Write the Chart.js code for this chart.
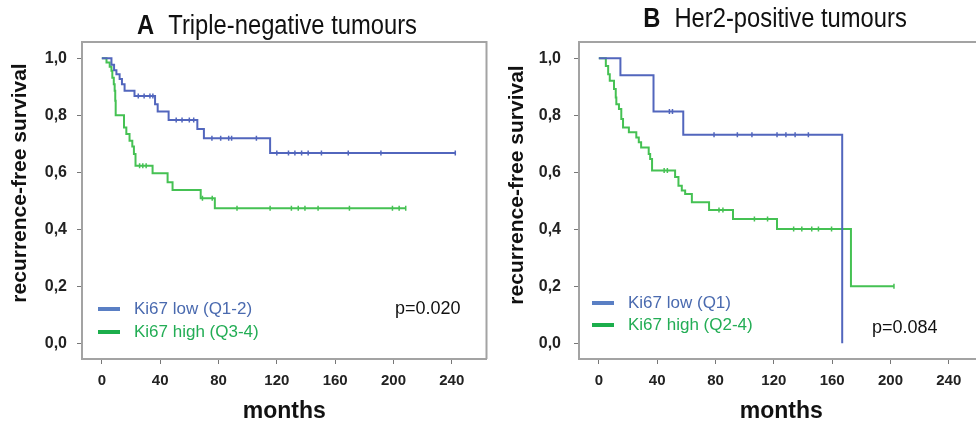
<!DOCTYPE html>
<html>
<head>
<meta charset="utf-8">
<script src="https://cdn.jsdelivr.net/npm/chart.js@4.4.1/dist/chart.umd.min.js"></script>
<style>
html, body { margin: 0; padding: 0; background: #fff; overflow: hidden; width: 976px; height: 423px; }
#chartA { position: absolute; left: 0; top: 0; }
#chartB { position: absolute; left: 490px; top: 0; }
</style>
</head>
<body>
<canvas id="chartA" width="492" height="423"></canvas>
<canvas id="chartB" width="499" height="423"></canvas>
<script>
const xTicks = [0, 40, 80, 120, 160, 200, 240];
const yTicks = [0, 0.2, 0.4, 0.6, 0.8, 1.0];

// A  triple-negative
const aLowTime = [0, 6.6, 8.4, 10, 12.2, 13.8, 15.6, 22.4, 36.5, 38.3, 45.8, 65.5, 70, 115.4];
const aLowSurv = [1, 0.977, 0.958, 0.944, 0.927, 0.909, 0.886, 0.868, 0.839, 0.813, 0.783, 0.752, 0.719, 0.668];
const aLowCensor = [25, 29, 33, 35, 51, 55, 60, 63, 75.5, 81.5, 87, 89, 106, 120, 128, 132.4, 137, 141.5, 150.6, 169, 191.4, 242.4];

const aHighTime = [0, 3.2, 5.4, 6.6, 7.2, 8.2, 8.8, 9.2, 9.5, 15.2, 16.8, 19, 20.9, 22, 23.1, 34.8, 45.1, 48.5, 67.8, 77.5];
const aHighSurv = [1, 0.985, 0.97, 0.956, 0.932, 0.909, 0.886, 0.851, 0.8, 0.757, 0.734, 0.711, 0.69, 0.664, 0.623, 0.597, 0.565, 0.538, 0.509, 0.474];
const aHighCensor = [25.9, 28.1, 30.4, 69, 75.7, 92.7, 115.4, 130, 134.7, 139.3, 148.3, 169.8, 199.3, 203.9, 208.4];

// B  her2-positive
const bLowTime = [0, 14.8, 37.5, 57.9, 166.9];
const bLowSurv = [1, 0.94, 0.813, 0.732, 0];
const bLowCensor = [48.4, 50.5, 79, 95, 105, 122.2, 128.3, 134.6, 143.7];

const bHighTime = [0, 4.8, 6.4, 7.5, 10.4, 11.6, 12, 13.8, 15.4, 16.6, 20.6, 25.7, 27.4, 29, 34.2, 35.2, 36.5, 52.3, 54.6, 56.9, 59.2, 63.8, 75.6, 92, 122.2, 172.9];
const bHighSurv = [1, 0.973, 0.944, 0.921, 0.892, 0.862, 0.839, 0.822, 0.787, 0.757, 0.74, 0.722, 0.705, 0.687, 0.664, 0.647, 0.606, 0.583, 0.553, 0.536, 0.524, 0.495, 0.468, 0.436, 0.401, 0.2];
const bHighCensor = [44.8, 47, 82.4, 85.1, 106.7, 115.7, 133.6, 139.2, 146, 150.6, 159.6, 202.4];

const blue = '#5266bd';
const green = '#45c153';
const FONT = "'Liberation Sans', Arial, sans-serif";
const frameColor = '#a3a3a3';

function kmLine(times, surv, censor) {
  const pts = times.map((t, i) => ({ x: t, y: surv[i] }));
  const last = Math.max(...censor);
  if (last > times[times.length - 1]) pts.push({ x: last, y: surv[surv.length - 1] });
  return pts;
}
function kmCensor(times, surv, censor) {
  return censor.map(c => {
    let y = surv[0];
    times.forEach((t, i) => { if (t <= c) y = surv[i]; });
    return { x: c, y: y };
  });
}

function lineSet(label, color, times, surv, censor) {
  return [
    // 'before' in chart.js = horizontal first, then the drop
    { label: label, data: kmLine(times, surv, censor), borderColor: color, borderWidth: 2, stepped: 'before', pointRadius: 0, fill: false, legendColor: color },
    { label: 'censored', data: kmCensor(times, surv, censor), showLine: false, pointStyle: 'line', pointRotation: 90, pointRadius: 2.5, pointBorderColor: color, pointBorderWidth: 1.5 }
  ];
}

function decor(p) {
  return {
    id: 'decor',
    afterDraw(chart) {
      const ctx = chart.ctx, a = chart.chartArea;
      ctx.save();
      ctx.strokeStyle = frameColor;
      ctx.lineWidth = 2;
      ctx.beginPath();
      ctx.moveTo(a.left, a.top);
      ctx.lineTo(a.right, a.top);
      ctx.lineTo(a.right, a.bottom);
      ctx.stroke();

      // panel title
      ctx.fillStyle = '#111';
      ctx.textBaseline = 'middle';
      ctx.font = 'bold 27px ' + FONT;
      const wL = ctx.measureText(p.letter).width;
      ctx.font = '27px ' + FONT;
      const wT = ctx.measureText(p.title).width;
      const gap = 16;
      ctx.save();
      ctx.translate(p.titleX, p.titleY);
      ctx.scale(0.88, 1);
      const x0 = -(wL + gap + wT) / 2;
      ctx.textAlign = 'left';
      ctx.font = 'bold 27px ' + FONT;
      ctx.fillText(p.letter, x0, 0);
      ctx.font = '27px ' + FONT;
      ctx.fillText(p.title, x0 + wL + gap, 0);
      ctx.restore();

      // y title
      ctx.save();
      ctx.translate(p.yTitleX, p.yTitleY);
      ctx.rotate(-Math.PI / 2);
      ctx.textAlign = 'center';
      ctx.font = 'bold 21px ' + FONT;
      ctx.fillStyle = '#111';
      ctx.fillText('recurrence-free survival', 0, 0);
      ctx.restore();

      // legend
      const sets = chart.data.datasets.filter(d => d.legendColor);
      sets.forEach((d, i) => {
        const y = p.legendY[i];
        ctx.strokeStyle = p.swatch[i];
        ctx.lineWidth = 4;
        ctx.beginPath();
        ctx.moveTo(p.legendX, y);
        ctx.lineTo(p.legendX + 22, y);
        ctx.stroke();
        ctx.fillStyle = p.textColor[i];
        ctx.font = '17px ' + FONT;
        ctx.textAlign = 'left';
        ctx.fillText(d.label, p.legendX + 36, y);
      });

      ctx.fillStyle = '#111';
      ctx.font = '18px ' + FONT;
      ctx.textAlign = 'left';
      ctx.fillText(p.pText, p.pX, p.pY);
      ctx.restore();
    }
  };
}

function makeChart(id, datasets, yAxisWidth, yPad, p) {
  return new Chart(document.getElementById(id), {
    type: 'line',
    data: { datasets: datasets },
    options: {
      responsive: false,
      animation: false,
      layout: { padding: { top: 42, right: 2, left: 0, bottom: 0 } },
      plugins: { legend: { display: false }, tooltip: { enabled: false } },
      scales: {
        x: {
          type: 'linear', min: -13.6, max: 263.8,
          afterBuildTicks: s => { s.ticks = xTicks.map(v => ({ value: v })); },
          afterFit: s => { s.height = 64; },
          grid: { display: true, drawOnChartArea: false, tickLength: 5, color: '#777' },
          border: { color: frameColor, width: 2 },
          ticks: { color: '#222', padding: 8, font: { family: FONT, size: 15, weight: 'bold' } },
          title: { display: true, text: 'months', color: '#111', padding: 0, font: { family: FONT, size: 23, weight: 'bold', lineHeight: 1 } }
        },
        y: {
          min: -0.055, max: 1.057,
          afterBuildTicks: s => { s.ticks = yTicks.map(v => ({ value: v })); },
          afterFit: s => { s.width = yAxisWidth; },
          grid: { display: true, drawOnChartArea: false, tickLength: 5, color: '#777' },
          border: { color: frameColor, width: 2 },
          ticks: { color: '#222', padding: yPad, font: { family: FONT, size: 16, weight: 'bold' }, callback: v => v.toFixed(1).replace('.', ',') }
        }
      }
    },
    plugins: [decor(p)]
  });
}

makeChart('chartA',
  [...lineSet('Ki67 low (Q1-2)', blue, aLowTime, aLowSurv, aLowCensor),
   ...lineSet('Ki67 high (Q3-4)', green, aHighTime, aHighSurv, aHighCensor)],
  82, 10,
  { letter: 'A', title: 'Triple-negative tumours', titleX: 277, titleY: 27, yTitleX: 20, yTitleY: 183,
    legendX: 98, legendY: [309, 332], swatch: ['#5a7fc4', '#1cae4c'], textColor: ['#4a6aaf', '#23ad55'],
    pText: 'p=0.020', pX: 395, pY: 309 });

makeChart('chartB',
  [...lineSet('Ki67 low (Q1)', blue, bLowTime, bLowSurv, bLowCensor),
   ...lineSet('Ki67 high (Q2-4)', green, bHighTime, bHighSurv, bHighCensor)],
  89, 13,
  { letter: 'B', title: 'Her2-positive tumours', titleX: 285, titleY: 20, yTitleX: 27, yTitleY: 185,
    legendX: 102, legendY: [303, 325], swatch: ['#5a7fc4', '#1cae4c'], textColor: ['#4a6aaf', '#23ad55'],
    pText: 'p=0.084', pX: 382, pY: 328 });
</script>
</body>
</html>
